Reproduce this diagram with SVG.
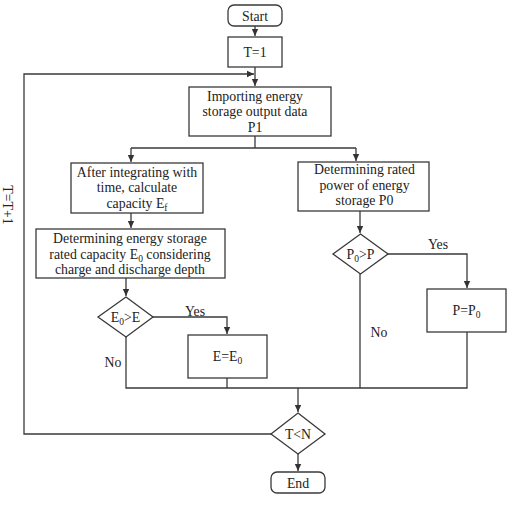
<svg xmlns="http://www.w3.org/2000/svg" width="512" height="506" viewBox="0 0 512 506">
<defs>
<marker id="ah" markerWidth="8" markerHeight="8" refX="7" refY="4" orient="auto" markerUnits="userSpaceOnUse">
<path d="M0,0.8 L7,4 L0,7.2 Z" fill="#333"/>
</marker>
<style>
.n{fill:#fff;stroke:#3a3a3a;stroke-width:1.3}
.c{fill:none;stroke:#3a3a3a;stroke-width:1.3}
text{font-family:"Liberation Serif","Times New Roman",serif;font-size:13.8px;fill:#222;text-anchor:middle}
.s{font-size:9.5px}
</style>
</defs>
<rect width="512" height="506" fill="#fff"/>
<g id="connectors">
<path class="c" d="M255,26 V36" marker-end="url(#ah)"/>
<path class="c" d="M255,67 V86" marker-end="url(#ah)"/>
<path class="c" d="M271,434 H24 V74 H254" marker-end="url(#ah)"/>
<path class="c" d="M255,136 V148"/>
<path class="c" d="M131,148 H356"/>
<path class="c" d="M131,148 V162" marker-end="url(#ah)"/>
<path class="c" d="M356,148 V161" marker-end="url(#ah)"/>
<path class="c" d="M131,213 V228" marker-end="url(#ah)"/>
<path class="c" d="M126,278 V296" marker-end="url(#ah)"/>
<path class="c" d="M360,211 V233" marker-end="url(#ah)"/>
<path class="c" d="M388,254 H467 V288" marker-end="url(#ah)"/>
<path class="c" d="M153,317 H227 V334" marker-end="url(#ah)"/>
<path class="c" d="M126,337 V388 H467 V332"/>
<path class="c" d="M227,378 V388"/>
<path class="c" d="M360,274 V388"/>
<path class="c" d="M298,388 V412" marker-end="url(#ah)"/>
<path class="c" d="M298,454 V471" marker-end="url(#ah)"/>
<text x="195" y="315.5">Yes</text>
<text x="438" y="249">Yes</text>
<text x="113" y="366.5">No</text>
<text x="379" y="336.5">No</text>
<text transform="translate(8,205) rotate(90)" y="5">T=T+1</text>
</g>
<g id="start">
<rect class="n" x="228" y="5" width="54" height="21" rx="6"/>
<text x="255" y="20.5">Start</text>
</g>
<g id="t1">
<rect class="n" x="228" y="37" width="54" height="30"/>
<text x="255" y="57">T=1</text>
</g>
<g id="import">
<rect class="n" x="189" y="87" width="142" height="49"/>
<text x="255" y="100.5">Importing energy</text>
<text x="255" y="116">storage output data</text>
<text x="255" y="131.5">P1</text>
</g>
<g id="integrate">
<rect class="n" x="71" y="163" width="132" height="50"/>
<text x="137" y="176.5">After integrating with</text>
<text x="137" y="192">time, calculate</text>
<text x="137" y="207.5">capacity E<tspan class="s" dy="3">f</tspan></text>
</g>
<g id="capacity">
<rect class="n" x="36" y="229" width="189" height="49"/>
<text x="130" y="243">Determining energy storage</text>
<text x="130" y="258.5">rated capacity E<tspan class="s" dy="3">0</tspan><tspan dy="-3"> considering</tspan></text>
<text x="130" y="274">charge and discharge depth</text>
</g>
<g id="power">
<rect class="n" x="298" y="162" width="131" height="49"/>
<text x="364.5" y="174">Determining rated</text>
<text x="364.5" y="189.5">power of energy</text>
<text x="364.5" y="205">storage P0</text>
</g>
<g id="dP">
<path class="n" d="M360.5,234 L388,254 L360.5,274 L333,254 Z"/>
<text x="360.5" y="259">P<tspan class="s" dy="3">0</tspan><tspan dy="-3">&gt;P</tspan></text>
</g>
<g id="pp0">
<rect class="n" x="427" y="289" width="79" height="43"/>
<text x="466.5" y="315">P=P<tspan class="s" dy="3">0</tspan></text>
</g>
<g id="dE">
<path class="n" d="M126,297 L153,317 L126,337 L98,317 Z"/>
<text x="125.5" y="322">E<tspan class="s" dy="3">0</tspan><tspan dy="-3">&gt;E</tspan></text>
</g>
<g id="ee0">
<rect class="n" x="188" y="335" width="79" height="43"/>
<text x="227.5" y="361">E=E<tspan class="s" dy="3">0</tspan></text>
</g>
<g id="dT">
<path class="n" d="M298,413 L325,434 L298,454 L271,434 Z"/>
<text x="298" y="439">T&lt;N</text>
</g>
<g id="end">
<rect class="n" x="271" y="472" width="54" height="21" rx="6"/>
<text x="298" y="487.5">End</text>
</g>
</svg>
